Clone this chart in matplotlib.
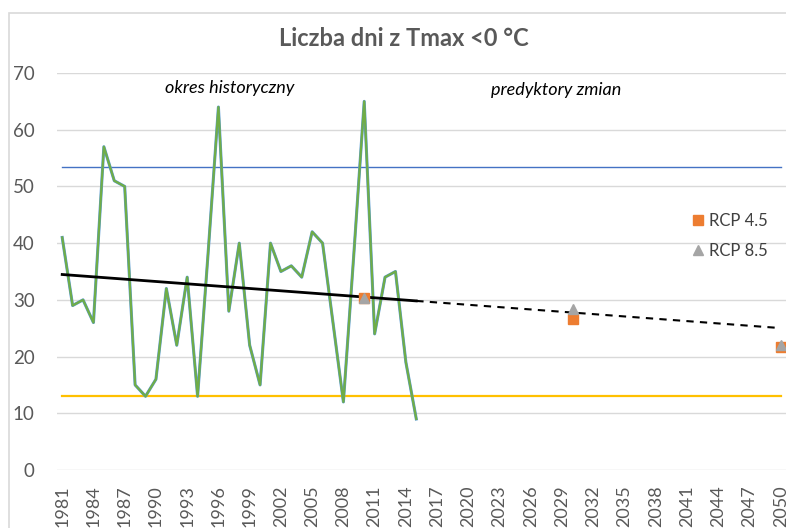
import numpy as np
import matplotlib
matplotlib.use("Agg")
import matplotlib.pyplot as plt
from matplotlib.patches import Rectangle

plt.rcParams['font.family'] = ['Lato', 'DejaVu Sans']

# observed number of days with Tmax < 0 C, 1981-2015
years = list(range(1981, 2016))
days = [41, 29, 30, 26, 57, 51, 50, 15, 13, 16,
        32, 22, 34, 13, 38, 64, 28, 40, 22, 15,
        40, 35, 36, 34, 42, 40, 26, 12, 38, 65,
        24, 34, 35, 19, 9]

# scenario predictors
rcp_years = [2010, 2030, 2050]
rcp45 = [30.3, 26.6, 21.6]
rcp85 = [30.3, 28.3, 22.0]

upper_level = 53.4
lower_level = 13.0
forecast_end = 2050

tick_years = list(range(1981, 2051, 3))

GREY = "#595959"

fig = plt.figure(figsize=(7.86, 5.28), dpi=100)
ax = fig.add_axes([57 / 786, 1 - 470 / 528, 1 - 57 / 786, (470 - 73) / 528])

# chart area border
fig.patches.append(Rectangle((9 / 786, -0.2), 1.2, 1.2 - 13 / 528, transform=fig.transFigure,
                             fill=False, edgecolor="#D9D9D9", lw=1.2, clip_on=False))

ax.set_xlim(1980.5, 2050.5)
ax.set_ylim(0, 70)
ax.set_yticks(range(0, 71, 10))
ax.set_xticks(tick_years)
ax.set_xticklabels([str(y) for y in tick_years], rotation=90)
ax.tick_params(axis="both", length=0, labelsize=13, labelcolor=GREY)
ax.tick_params(axis="x", pad=11)
ax.tick_params(axis="y", labelsize=13.5, pad=16)
ax.grid(axis="y", color="#D9D9D9", lw=1)
ax.set_axisbelow(True)
for s in ax.spines.values():
    s.set_visible(False)

# reference levels
ax.plot([years[0], forecast_end], [upper_level, upper_level], color="#4472C4", lw=1)
ax.plot([years[0], forecast_end], [lower_level, lower_level], color="#FFC000", lw=1.6)

# observations (blue series under green)
ax.plot(years, days, color="#5B9BD5", lw=2.2, zorder=3)
ax.plot(years, days, color="#70AD47", lw=1.6, zorder=4)

# linear trend and its forecast
a, b = np.polyfit(years, days, 1)
ax.plot([years[0], years[-1]], [a * years[0] + b, a * years[-1] + b], color="black", lw=2, zorder=5)
ax.plot([years[-1], forecast_end], [a * years[-1] + b, a * forecast_end + b], color="black",
        lw=1.5, ls=(0, (3.5, 3)), zorder=5)

ax.plot(rcp_years, rcp45, ls="none", marker="s", ms=7.5, color="#ED7D31", zorder=6, label="RCP 4.5")
ax.plot(rcp_years, rcp85, ls="none", marker="^", ms=7.5, color="#A5A5A5", zorder=7, label="RCP 8.5")

ax.text(1997.1, 67.4, "okres historyczny", style="italic", fontsize=13, ha="center", va="center")
ax.text(2028.4, 67.0, "predyktory zmian", style="italic", fontsize=13, ha="center", va="center")

leg = ax.legend(loc="center left", bbox_to_anchor=(686 / 786, 1 - 236 / 528),
                bbox_transform=fig.transFigure, frameon=False, fontsize=12,
                handlelength=0.6, handletextpad=0.4, labelspacing=0.8, borderaxespad=0)
for t in leg.get_texts():
    t.set_color("#404040")

fig.text(404 / 786, 1 - 38 / 528, "Liczba dni z Tmax <0 °C", ha="center", va="center",
         fontsize=17, fontweight="bold", color=GREY)

fig.savefig("out.png", dpi=100)
